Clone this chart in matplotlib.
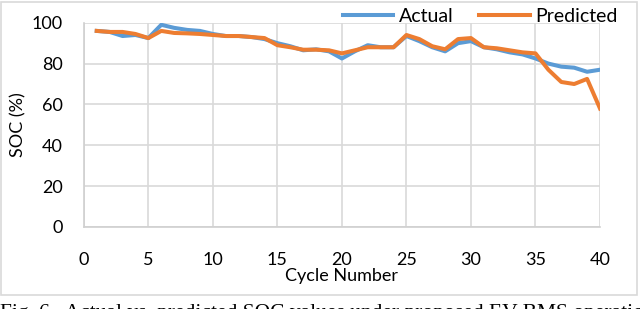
import numpy as np
import matplotlib.pyplot as plt
from matplotlib.patches import Rectangle

cycles = list(range(1, 41))
actual = [96, 95.5, 93.5, 94, 92.5, 99, 97.5, 96.5, 96, 94.5,
          93.5, 93.5, 93, 92, 90, 88.5, 86.5, 87, 86, 82.5,
          86, 89, 88, 88, 93.5, 91, 88, 86, 90, 91,
          88, 87, 85.5, 84.5, 82.5, 80, 78.5, 78, 76, 77]
predicted = [96, 95.5, 95.5, 94.5, 92.5, 96, 95, 94.8, 94.5, 94,
             93.5, 93.5, 93, 92.5, 89, 88, 86.8, 86.8, 86.5, 85,
             86.5, 88, 88, 88, 94, 92, 88.5, 87, 92, 92.5,
             88, 87.5, 86.5, 85.5, 85, 77, 71, 70, 72.5, 58]
xticks = list(range(0, 41, 5))
yticks = list(range(0, 101, 20))
caption = "Fig. 6.  Actual vs. predicted SOC values under proposed EV-BMS operation"

plt.rcParams['font.family'] = ['Lato', 'DejaVu Sans']

fig = plt.figure(figsize=(6.4, 3.09), dpi=100)
fig.patches.append(Rectangle((0.002, 0.045), 0.993, 0.95, transform=fig.transFigure,
                             fill=False, edgecolor='#d9d9d9', linewidth=1.2))
ax = fig.add_axes([0.131, 0.2654, 0.8065, 0.661])

ax.plot(cycles, actual, color='#5B9BD5', lw=2.9, label='Actual', solid_joinstyle='round')
ax.plot(cycles, predicted, color='#ED7D31', lw=2.9, label='Predicted', solid_joinstyle='round')

ax.set_xlim(0, 40)
ax.set_ylim(0, 100)
ax.set_xticks(xticks)
ax.set_yticks(yticks)
ax.grid(True, color='#d9d9d9', lw=1.2)
ax.set_axisbelow(True)
for s in ['top', 'right']:
    ax.spines[s].set_visible(False)
for s in ['left', 'bottom']:
    ax.spines[s].set_color('#d0d0d0')
    ax.spines[s].set_linewidth(1.2)
ax.tick_params(length=0, labelsize=13, colors='#000000')
ax.tick_params(axis='y', pad=15)
ax.tick_params(axis='x', pad=18)
ax.set_xlabel('Cycle Number', fontsize=13, labelpad=0)
ax.set_ylabel('SOC (%)', fontsize=13, labelpad=4)

ax.legend(loc='center right', bbox_to_anchor=(1.05, 1.03), ncol=2, frameon=False,
          fontsize=14, handlelength=2.6, columnspacing=1.3, handletextpad=0.3,
          borderaxespad=0)

# caption sits under the chart and is cut off by the image edge, as in the source
fig.text(0.0, -0.03, caption, family='Liberation Serif', fontsize=15.5, va='baseline', ha='left')

fig.savefig('out.png', dpi=100)
